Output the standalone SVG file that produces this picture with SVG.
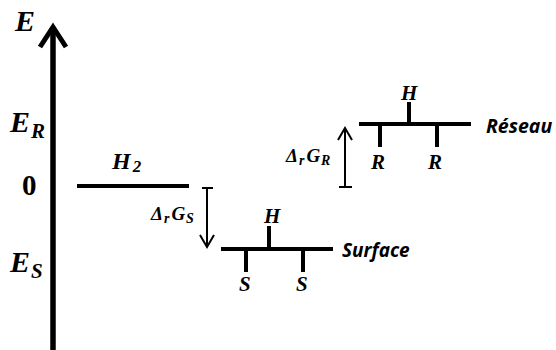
<svg xmlns="http://www.w3.org/2000/svg" width="556" height="350" viewBox="0 0 556 350">
<style>
.m{font-family:"Liberation Serif",serif;font-weight:bold;font-style:italic;fill:#000}
.n{font-family:"Liberation Serif",serif;font-weight:bold;fill:#000}
.t{font-family:"Open Sans","Liberation Sans",sans-serif;font-weight:bold;font-style:italic;fill:#000}
.lvl{stroke:#000;stroke-width:4;fill:none}
.thin{stroke:#000;stroke-width:2;fill:none}
</style>
<rect width="556" height="350" fill="#fff"/>
<g id="axis">
<line x1="53" y1="27" x2="53" y2="350" stroke="#000" stroke-width="5.5"/>
<polyline points="40,47 53,27 66,47" fill="none" stroke="#000" stroke-width="5" stroke-linejoin="miter"/>
<text class="m" x="15" y="31" font-size="30">E</text>
<text class="m" x="10" y="132" font-size="30">E<tspan font-size="21" dy="6" dx="1">R</tspan></text>
<text class="n" x="22" y="195" font-size="29">0</text>
<text class="m" x="10" y="272" font-size="30">E<tspan font-size="21" dy="6" dx="1">S</tspan></text>
</g>
<g id="h2">
<line class="lvl" x1="77" y1="186" x2="189" y2="186"/>
<text class="m" x="112" y="169" font-size="24">H<tspan font-size="17" dy="3" dx="2">2</tspan></text>
</g>
<g id="surface">
<line class="lvl" x1="221" y1="249" x2="333" y2="249"/>
<line class="lvl" x1="269" y1="226" x2="269" y2="249"/>
<line class="lvl" x1="246" y1="249" x2="246" y2="272"/>
<line class="lvl" x1="303" y1="249" x2="303" y2="272"/>
<text class="m" x="264" y="223" font-size="21">H</text>
<text class="m" x="239" y="291" font-size="21">S</text>
<text class="m" x="296" y="291" font-size="21">S</text>
<text class="t" x="342" y="257" font-size="19">Surface</text>
</g>
<g id="reseau">
<line class="lvl" x1="359" y1="124" x2="471" y2="124"/>
<line class="lvl" x1="409" y1="102" x2="409" y2="124"/>
<line class="lvl" x1="380" y1="124" x2="380" y2="147"/>
<line class="lvl" x1="437" y1="124" x2="437" y2="147"/>
<text class="m" x="401" y="100" font-size="21">H</text>
<text class="m" x="371" y="169" font-size="21">R</text>
<text class="m" x="428" y="169" font-size="21">R</text>
<text class="t" x="486" y="133" font-size="19.5">Réseau</text>
</g>
<g id="connectors">
<line class="thin" x1="207" y1="188" x2="207" y2="246"/>
<line class="thin" x1="202" y1="188" x2="213" y2="188"/>
<polyline class="thin" points="200,235 207,247 214,235"/>
<line class="thin" x1="345" y1="128" x2="345" y2="187"/>
<line class="thin" x1="339" y1="187" x2="352" y2="187"/>
<polyline class="thin" points="338,140 345,128 352,140"/>
<text class="m" x="151" y="220" font-size="19">Δ<tspan font-size="14" dy="3" dx="1">r</tspan><tspan dy="-3" dx="2">G</tspan><tspan font-size="14" dy="3" dx="1">S</tspan></text>
<text class="m" x="286" y="162" font-size="19">Δ<tspan font-size="14" dy="3" dx="1">r</tspan><tspan dy="-3" dx="2">G</tspan><tspan font-size="14" dy="3" dx="1">R</tspan></text>
</g>
</svg>
